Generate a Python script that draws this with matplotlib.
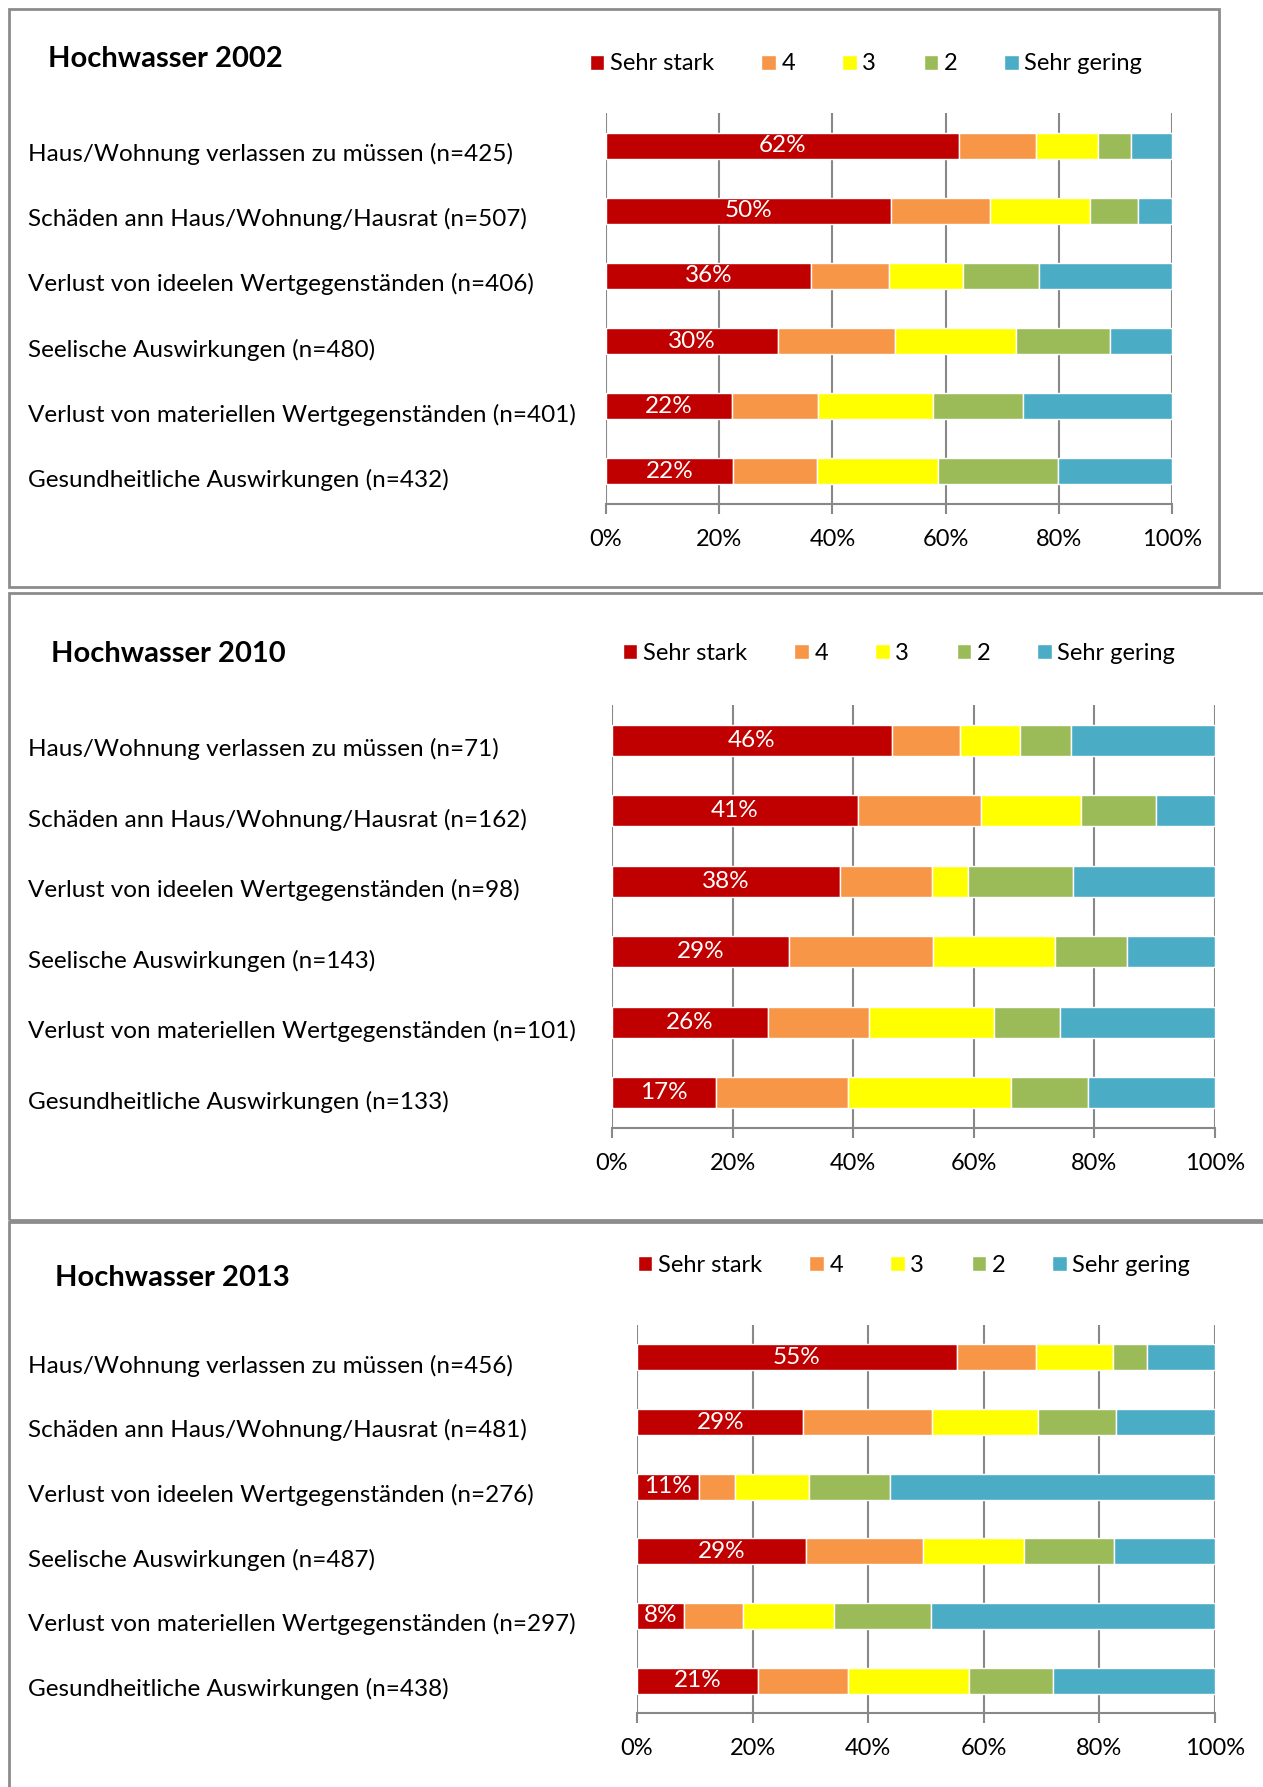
import numpy as np
import matplotlib
matplotlib.use("Agg")
from matplotlib import pyplot as plt
from matplotlib.patches import Rectangle

plt.rcParams['font.family'] = ['Lato', 'DejaVu Sans']

levels = ["Sehr stark", "4", "3", "2", "Sehr gering"]
colors = ["#C00000", "#F79646", "#FFFF00", "#9BBB59", "#4BACC6"]
years = ["Hochwasser 2002", "Hochwasser 2010", "Hochwasser 2013"]

cats_2002 = ["Haus/Wohnung verlassen zu müssen (n=425)",
             "Schäden ann Haus/Wohnung/Hausrat (n=507)",
             "Verlust von ideelen Wertgegenständen (n=406)",
             "Seelische Auswirkungen (n=480)",
             "Verlust von materiellen Wertgegenständen (n=401)",
             "Gesundheitliche Auswirkungen (n=432)"]
cats_2010 = ["Haus/Wohnung verlassen zu müssen (n=71)",
             "Schäden ann Haus/Wohnung/Hausrat (n=162)",
             "Verlust von ideelen Wertgegenständen (n=98)",
             "Seelische Auswirkungen (n=143)",
             "Verlust von materiellen Wertgegenständen (n=101)",
             "Gesundheitliche Auswirkungen (n=133)"]
cats_2013 = ["Haus/Wohnung verlassen zu müssen (n=456)",
             "Schäden ann Haus/Wohnung/Hausrat (n=481)",
             "Verlust von ideelen Wertgegenständen (n=276)",
             "Seelische Auswirkungen (n=487)",
             "Verlust von materiellen Wertgegenständen (n=297)",
             "Gesundheitliche Auswirkungen (n=438)"]

# rows = categories, cols = Sehr stark, 4, 3, 2, Sehr gering (percent)
shares_2002 = np.array([[62.4, 13.6, 10.9, 5.9, 7.2],
                        [50.3, 17.6, 17.7, 8.4, 6.0],
                        [36.2, 13.8, 13.0, 13.5, 23.5],
                        [30.4, 20.7, 21.4, 16.6, 10.9],
                        [22.2, 15.2, 20.3, 16.0, 26.3],
                        [22.4, 14.9, 21.4, 21.1, 20.2]])
shares_2010 = np.array([[46.4, 11.3, 10.0, 8.4, 23.9],
                        [40.8, 20.4, 16.6, 12.4, 9.8],
                        [37.8, 15.3, 6.0, 17.4, 23.5],
                        [29.3, 23.9, 20.3, 11.9, 14.6],
                        [25.8, 16.8, 20.8, 10.9, 25.7],
                        [17.2, 21.9, 27.0, 12.9, 21.0]])
shares_2013 = np.array([[55.3, 13.8, 13.3, 5.9, 11.7],
                        [28.8, 22.3, 18.3, 13.5, 17.1],
                        [10.8, 6.2, 12.7, 14.1, 56.2],
                        [29.2, 20.2, 17.5, 15.7, 17.4],
                        [8.1, 10.3, 15.6, 16.8, 49.2],
                        [21.0, 15.5, 21.0, 14.5, 28.0]])

ticks = [0, 20, 40, 60, 80, 100]
tick_labels = ["0%", "20%", "40%", "60%", "80%", "100%"]

W, H = 1263, 1787
fig = plt.figure(figsize=(W / 100, H / 100), dpi=100)

def fx(px):
    return px / W

def fy(py):
    return 1 - py / H

# panel layout in pixels: box, axes (left, top, right, bottom), title pos, legend pos, bar height
panels = [
    dict(box=(9, 9, 1219, 587), ax=(606, 113, 1172, 504), title=(48, 59), leg=(590, 64), bh=0.40),
    dict(box=(9, 593, 1266, 1220), ax=(612, 705, 1215, 1128), title=(51, 654), leg=(623, 653), bh=0.44),
    dict(box=(9, 1222, 1266, 1790), ax=(637, 1325, 1215, 1713), title=(55, 1278), leg=(638, 1265), bh=0.40),
]
cats_all = [cats_2002, cats_2010, cats_2013]
shares_all = [shares_2002, shares_2010, shares_2013]
grid_c = "#888888"

for p, cats, shares, year in zip(panels, cats_all, shares_all, years):
    x0, y0, x1, y1 = p["box"]
    fig.patches.append(Rectangle((fx(x0), fy(y1)), fx(x1 - x0), (y1 - y0) / H,
                                 transform=fig.transFigure, fill=False,
                                 edgecolor="#8c8c8c", linewidth=2, zorder=0))
    l, t, r, b = p["ax"]
    ax = fig.add_axes([fx(l), fy(b), fx(r - l), (b - t) / H])
    y = np.arange(len(cats))
    left = np.zeros(len(cats))
    conts = []
    for j, lev in enumerate(levels):
        c = ax.barh(y, shares[:, j], left=left, height=p["bh"], color=colors[j],
                    edgecolor="white", linewidth=1.0, label=lev, zorder=3)
        conts.append(c)
        left = left + shares[:, j]
    ax.bar_label(conts[0], labels=[f"{v:.0f}%" for v in shares[:, 0]],
                 label_type="center", color="white", fontsize=17.5)
    ax.set_xlim(0, 100)
    ax.set_ylim(5.5, -0.5)
    ax.set_xticks(ticks)
    ax.set_xticklabels(tick_labels, fontsize=17)
    ax.set_yticks([])
    ax.grid(axis="x", color=grid_c, linewidth=1.5, zorder=0)
    for s in ["top", "right", "left"]:
        ax.spines[s].set_visible(False)
    ax.spines["bottom"].set_color(grid_c)
    ax.spines["bottom"].set_linewidth(1.5)
    ax.tick_params(axis="x", color=grid_c, width=1.5, length=7, pad=11)
    # category labels, left aligned at fixed figure x
    trans = matplotlib.transforms.blended_transform_factory(fig.transFigure, ax.transData)
    for yi, name in zip(y, cats):
        ax.text(fx(28), yi + 0.13, name, transform=trans, ha="left", va="center",
                fontsize=17.5, clip_on=False)
    fig.text(fx(p["title"][0]), fy(p["title"][1]), year, fontsize=21,
             fontweight="bold", ha="left", va="center")
    ax.legend(handles=conts, loc="center left", ncol=5, frameon=False,
              bbox_to_anchor=(fx(p["leg"][0]), fy(p["leg"][1])),
              bbox_transform=fig.transFigure, borderaxespad=0, borderpad=0,
              fontsize=17, handlelength=0.6, handleheight=0.6,
              handletextpad=0.25, columnspacing=2.0)

fig.savefig("out.png", dpi=100)
